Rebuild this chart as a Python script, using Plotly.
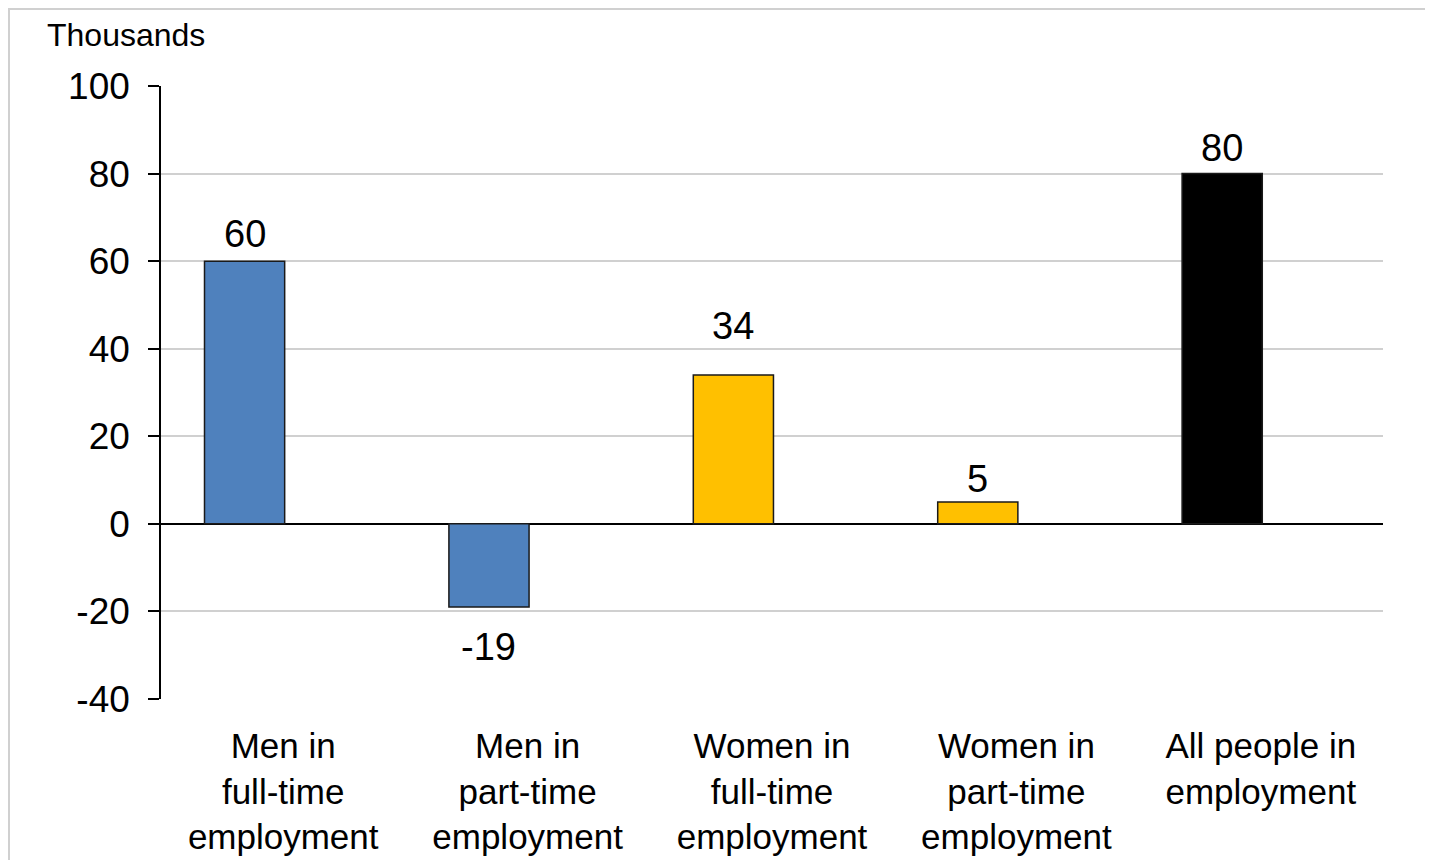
import plotly.graph_objects as go

categories = ["Men in<br>full-time<br>employment", "Men in<br>part-time<br>employment",
              "Women in<br>full-time<br>employment", "Women in<br>part-time<br>employment",
              "All people in<br>employment"]
values = [60, -19, 34, 5, 80]
colors = ["#4F81BD", "#4F81BD", "#FFC000", "#FFC000", "#000000"]
y_ticks = [-40, -20, 0, 20, 40, 60, 80, 100]
y_ticktext = ["-40", "-20", "0", "20", "40", "60", "80", "100"]

# styling: vertical pixel shift of each data label centre from the bar end
label_yshift = [27, -40, 49, 23, 26]

FONT = "Liberation Sans, Arial, sans-serif"
W, H = 1433, 860
ML, MR, MT, MB = 153, 58, 78, 169
plot_w = W - ML - MR
plot_h = H - MT - MB
cat_w = plot_w / len(categories)
BAR_W = 0.328
BAR_OFF = -0.322
label_xshift = (BAR_OFF + BAR_W / 2) * cat_w

fig = go.Figure()
fig.add_trace(go.Bar(
    x=categories, y=values,
    marker=dict(color=colors, line=dict(color="#1a1a1a", width=1.5)),
    width=BAR_W, offset=BAR_OFF,
    cliponaxis=False, hoverinfo="x+y",
))

annotations = []
for c, v, ys in zip(categories, values, label_yshift):
    annotations.append(dict(text=str(v), x=c, y=v, xref="x", yref="y",
                            xanchor="center", yanchor="middle",
                            xshift=label_xshift, yshift=ys, showarrow=False,
                            font=dict(family=FONT, size=38, color="#000000")))
annotations.append(dict(text="Thousands", xref="paper", yref="paper",
                        x=-116 / plot_w, y=1 + 51 / plot_h,
                        xanchor="left", yanchor="middle", showarrow=False,
                        font=dict(family=FONT, size=32, color="#000000")))

fig.update_layout(
    width=W, height=H,
    margin=dict(l=ML, r=MR, t=MT, b=MB, autoexpand=False),
    paper_bgcolor="white", plot_bgcolor="white",
    showlegend=False,
    font=dict(family=FONT, color="#000000"),
    xaxis=dict(showgrid=False, showline=False, ticks="", zeroline=False, automargin=False,
               tickfont=dict(family=FONT, size=35), ticklabelstandoff=23),
    yaxis=dict(range=[-40, 100], tickvals=y_ticks, ticktext=y_ticktext, automargin=False,
               showgrid=True, gridcolor="#d0d0d0",
               gridwidth=1.5, zeroline=True, zerolinecolor="#000000", zerolinewidth=1.5,
               showline=True, linecolor="#000000", linewidth=1.5, ticks="outside",
               ticklen=11, tickcolor="#000000", tickwidth=1.5,
               tickfont=dict(family=FONT, size=37), ticklabelstandoff=11),
    annotations=annotations,
    shapes=[dict(type="rect", xref="paper", yref="paper",
                 x0=(1 - ML) / plot_w, x1=(W - 14 - ML) / plot_w,
                 y0=-0.5, y1=1 + (MT - 1) / plot_h,
                 line=dict(color="#d0d0d0", width=2), layer="below")],
)

fig.write_html("out.html")
